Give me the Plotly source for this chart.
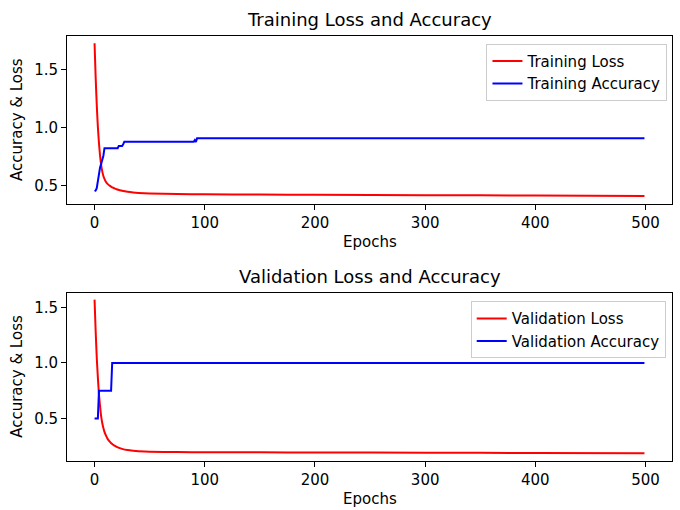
import plotly.graph_objects as go

# ---- data ----
loss_epochs = [0, 1, 2, 3, 4, 5, 6, 7, 8, 9, 10, 12, 14, 16, 18, 20, 25, 30, 35, 40, 50, 75, 100, 150,
               200, 300, 400, 499]
train_loss = [1.73, 1.44, 1.20, 1.01, 0.87, 0.76, 0.68, 0.625, 0.585, 0.56, 0.54, 0.515, 0.50, 0.488,
              0.479, 0.471, 0.458, 0.449, 0.443, 0.439, 0.434, 0.430, 0.428, 0.425, 0.423, 0.420, 0.417, 0.413]
val_loss = [1.57, 1.29, 1.05, 0.87, 0.72, 0.61, 0.52, 0.46, 0.415, 0.38, 0.355, 0.315, 0.29, 0.27,
            0.257, 0.245, 0.227, 0.216, 0.210, 0.206, 0.201, 0.198, 0.197, 0.196, 0.195, 0.193, 0.190, 0.188]

train_acc_epochs = [0, 1, 2, 3, 4, 5, 6, 7, 8, 9, 21, 22, 25, 26, 27, 90, 91, 92, 93, 499]
train_acc = [0.455, 0.46, 0.48, 0.55, 0.62, 0.66, 0.69, 0.72, 0.76, 0.825, 0.825, 0.845, 0.845, 0.86, 0.88,
             0.88, 0.895, 0.88, 0.91, 0.91]

val_acc_epochs = [0, 3, 4, 15, 16, 499]
val_acc = [0.5, 0.5, 0.75, 0.75, 1.0, 1.0]

titles = ["Training Loss and Accuracy", "Validation Loss and Accuracy"]
x_label = "Epochs"
y_label = "Accuracy & Loss"
x_ticks = [0, 100, 200, 300, 400, 500]
y_ticks = [0.5, 1.0, 1.5]

FONT = "DejaVu Sans"
RED = "#ff0000"
BLUE = "#0000ff"

fig = go.Figure()
fig.add_trace(go.Scatter(x=loss_epochs, y=train_loss, mode="lines", name="Training Loss",
                         line=dict(color=RED, width=2, shape="spline", smoothing=0.6),
                         xaxis="x", yaxis="y", legend="legend"))
fig.add_trace(go.Scatter(x=train_acc_epochs, y=train_acc, mode="lines", name="Training Accuracy",
                         line=dict(color=BLUE, width=2), xaxis="x", yaxis="y", legend="legend"))
fig.add_trace(go.Scatter(x=loss_epochs, y=val_loss, mode="lines", name="Validation Loss",
                         line=dict(color=RED, width=2, shape="spline", smoothing=0.6),
                         xaxis="x2", yaxis="y2", legend="legend2"))
fig.add_trace(go.Scatter(x=val_acc_epochs, y=val_acc, mode="lines", name="Validation Accuracy",
                         line=dict(color=BLUE, width=2), xaxis="x2", yaxis="y2", legend="legend2"))

axis_common = dict(showgrid=False, zeroline=False, showline=True, linecolor="black", linewidth=1,
                   mirror=True, ticks="outside", ticklen=5, tickwidth=1, tickcolor="black",
                   tickfont=dict(family=FONT, size=15, color="black"))

legend_common = dict(xanchor="right", yanchor="top", bordercolor="#cccccc", borderwidth=1,
                     itemwidth=30, bgcolor="rgba(255,255,255,0.8)",
                     font=dict(family=FONT, size=15, color="black"))

fig.update_layout(
    width=680, height=510,
    margin=dict(l=67, r=8, t=36, b=49),
    paper_bgcolor="white", plot_bgcolor="white",
    font=dict(family=FONT, size=15, color="black"),
    xaxis=dict(domain=[0, 1], range=[-25, 524], tickvals=x_ticks, anchor="y", **axis_common),
    yaxis=dict(domain=[0.605, 1], range=[0.345, 1.793], tickvals=y_ticks, tickformat=".1f",
               anchor="x", **axis_common),
    xaxis2=dict(domain=[0, 1], range=[-25, 524], tickvals=x_ticks, anchor="y2", **axis_common),
    yaxis2=dict(domain=[0, 0.396], range=[0.118, 1.632], tickvals=y_ticks, tickformat=".1f",
                anchor="x2", **axis_common),
    legend=dict(x=0.9925, y=0.982, **legend_common),
    legend2=dict(x=0.9896, y=0.376, **legend_common),
    showlegend=True,
)

annotations = []
for i, t in enumerate(titles):
    xr = "x domain" if i == 0 else "x2 domain"
    yr = "y domain" if i == 0 else "y2 domain"
    annotations.append(dict(text=t, xref=xr, yref=yr, x=0.5, y=1, xanchor="center", yanchor="bottom",
                            yshift=4, showarrow=False, font=dict(family=FONT, size=18, color="black")))
    annotations.append(dict(text=x_label, xref=xr, yref=yr, x=0.5, y=0, xanchor="center", yanchor="top",
                            yshift=-27, showarrow=False, font=dict(family=FONT, size=15, color="black")))
    annotations.append(dict(text=y_label, xref=xr, yref=yr, x=0, y=0.5, xanchor="center", yanchor="middle",
                            xshift=-50, textangle=-90, showarrow=False,
                            font=dict(family=FONT, size=15, color="black")))
fig.update_layout(annotations=annotations)

fig.write_html("out.html", config={"displayModeBar": False},
               post_script="document.body.style.margin='0';")
